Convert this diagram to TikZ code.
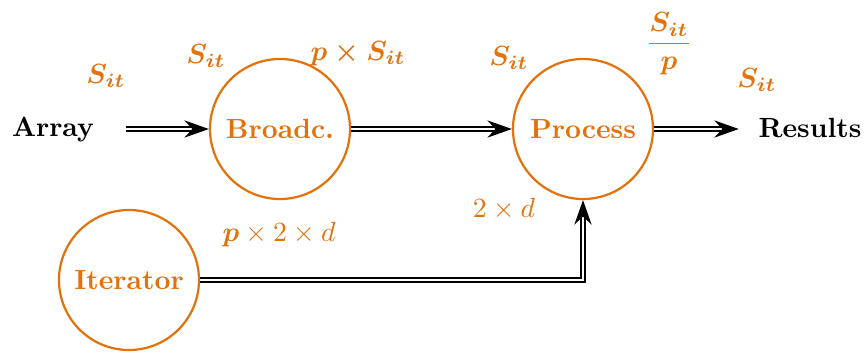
\documentclass[tikz,border=0pt]{standalone}
\usepackage{amsmath}
\usetikzlibrary{arrows.meta}
\definecolor{myorange}{RGB}{226,114,12}
\begin{document}
\begin{tikzpicture}[x=0.36pt,y=-0.36pt,
  proc/.style={circle, draw=myorange, line width=0.8pt, minimum size=50.4pt, inner sep=0pt, text=myorange, font=\bfseries},
  flow/.style={double, line width=0.6pt, double distance=0.75pt, -{Stealth[length=8.8pt,width=6.2pt]}},
  lbl/.style={text=myorange, inner sep=0pt}]
\useasboundingbox (0,0) rectangle (865,352);
\node[proc] (b) at (280,129) {Broadc.};
\node[proc] (p) at (583,129) {Process};
\node[proc] (i) at (129,280) {Iterator};
\node[font=\bfseries, anchor=base] (a) at (53,136) {Array};
\node[font=\bfseries, anchor=base] (r) at (810,137) {Results};
\draw[flow, shorten <=8pt] (a.east |- b.west) -- (b.west);
\draw[flow] (b) -- (p);
\draw[flow, shorten >=3.6pt] (p.east) -- (r.west |- p.east);
\draw[flow] (i) -| (p);
\node[lbl, anchor=base] (l1) at (106,83) {$\boldsymbol{S_{it}}$};
\node[lbl, anchor=base] (l2) at (206,63) {$\boldsymbol{S_{it}}$};
\node[lbl, anchor=base] (l3) at (358,60) {$\boldsymbol{p\times S_{it}}$};
\node[lbl, anchor=base] (l4) at (509,65) {$\boldsymbol{S_{it}}$};
\node[lbl] (l5) at (669,44) {$\dfrac{\boldsymbol{S_{it}}}{\boldsymbol{p}}$};
\node[lbl, anchor=base] (l6) at (757,87) {$\boldsymbol{S_{it}}$};
\node[lbl, anchor=base] (l7) at (504,217) {$2\times d$};
\node[lbl, anchor=base] (l8) at (279,241) {$\boldsymbol{p}\times 2\times d$};
\end{tikzpicture}
\end{document}
